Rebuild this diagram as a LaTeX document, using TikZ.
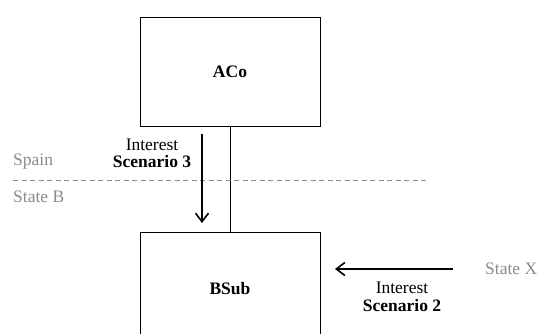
\documentclass[tikz,border=0pt]{standalone}
\usepackage{fontspec}
\setmainfont{Liberation Serif}
\usetikzlibrary{arrows.meta}
\definecolor{regiongray}{HTML}{8A8A8A}
\begin{document}
\begin{tikzpicture}[x=1pt,y=-1pt,
  font=\fontsize{17.5}{20}\selectfont,
  entity/.style={draw, line width=1pt, minimum width=180pt, inner sep=0pt},
  flow/.style={line width=1.6pt, -{Straight Barb[length=8.5pt,width=13pt,line width=1.6pt]}},
  region/.style={text=regiongray, anchor=west, inner sep=0pt},
  caption/.style={align=center, inner sep=0pt}]
\useasboundingbox (0,0) rectangle (540,334);
\clip (0,0) rectangle (540,334);

% companies
\node[entity, minimum height=108pt] (aco) at (230,72) {\textbf{ACo}};
\node[entity, minimum height=112pt, anchor=north] (bsub) at (230,232) {\textbf{BSub}};
\draw[line width=0.8pt] (aco.south) -- (bsub.north);

% border between the two states
\coordinate (borderL) at (13,180);
\coordinate (borderR) at (428,180);
\draw[regiongray, line width=1pt, dash pattern=on 5pt off 3.5pt] (borderL) -- (borderR);
\node[region] (spain) at (13,162) {Spain};
\node[region] (stateb) at (13,197) {State B};

% scenario 3: interest paid downwards
\coordinate (s3from) at (202,134);
\coordinate (s3to) at (202,223);
\draw[flow] (s3from) -- (s3to);
\node[caption] (int3) at (152,145) {Interest};
\node[caption] (sc3) at (152,162) {\textbf{Scenario 3}};

% scenario 2: interest from state X
\node[region] (statex) at (485,269) {State X};
\coordinate (s2from) at (453,269);
\coordinate (s2to) at (335,269);
\draw[flow] (s2from) -- (s2to);
\node[caption] (int2) at (402,288) {Interest};
\node[caption] (sc2) at (402,306) {\textbf{Scenario 2}};
\end{tikzpicture}
\end{document}
